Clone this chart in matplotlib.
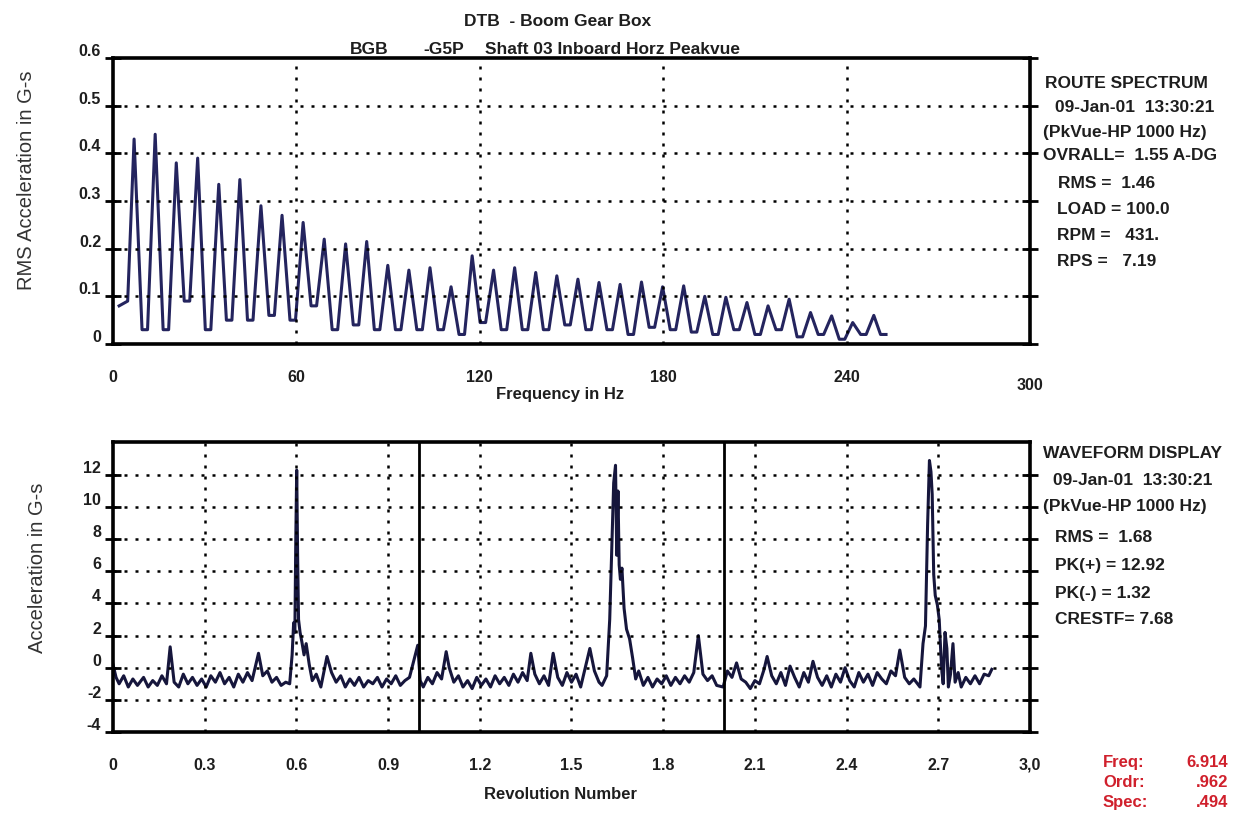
import matplotlib
matplotlib.use("Agg")
import matplotlib.pyplot as plt
from matplotlib.transforms import ScaledTranslation

# ---- spectrum (top) ----
start_hz = [2.0, 4.8]
start_g = [0.08, 0.09]
peak_hz = [6.9, 13.8, 20.7, 27.7, 34.6, 41.5, 48.4, 55.3, 62.2, 69.1, 76.1, 83.0,
           89.9, 96.8, 103.7, 110.6, 117.5, 124.5, 131.4, 138.3, 145.2, 152.1, 159.0, 165.9,
           172.9, 179.8, 186.7, 193.6, 200.5, 207.4, 214.3, 221.2, 228.2, 235.1, 242.0, 248.9]
peak_g = [0.43, 0.44, 0.38, 0.39, 0.335, 0.345, 0.29, 0.27, 0.255, 0.22, 0.21, 0.215,
          0.165, 0.155, 0.16, 0.12, 0.185, 0.155, 0.16, 0.15, 0.143, 0.136, 0.129, 0.125,
          0.13, 0.12, 0.122, 0.10, 0.098, 0.087, 0.08, 0.094, 0.066, 0.059, 0.045, 0.06]
dip_hz = [10.4, 17.3, 24.2, 31.1, 38.0, 44.9, 51.9, 58.8, 65.7, 72.6, 79.5, 86.4,
          93.3, 100.3, 107.2, 114.1, 121.0, 127.9, 134.8, 141.7, 148.7, 155.6, 162.5, 169.4,
          176.3, 183.2, 190.1, 197.1, 204.0, 210.9, 217.8, 224.7, 231.6, 238.5, 245.5, 252.0]
dip_g = [0.03, 0.03, 0.09, 0.03, 0.05, 0.05, 0.06, 0.05, 0.08, 0.03, 0.04, 0.03,
         0.03, 0.03, 0.03, 0.02, 0.045, 0.03, 0.03, 0.03, 0.04, 0.03, 0.03, 0.02,
         0.035, 0.03, 0.025, 0.02, 0.03, 0.02, 0.03, 0.015, 0.02, 0.01, 0.02, 0.02]

# ---- waveform (bottom) ----
rev = [0.00, 0.01, 0.02, 0.035, 0.05, 0.065, 0.08, 0.10, 0.115, 0.13, 0.145, 0.16,
       0.175, 0.187, 0.20, 0.215, 0.23, 0.245, 0.26, 0.275, 0.29, 0.305, 0.32, 0.335,
       0.35, 0.365, 0.38, 0.395, 0.41, 0.425, 0.44, 0.455, 0.476, 0.49, 0.505, 0.52,
       0.535, 0.55, 0.565, 0.578,
       0.586, 0.591, 0.595, 0.598, 0.601, 0.604, 0.607, 0.612, 0.618, 0.625, 0.632, 0.642,
       0.652, 0.665, 0.68, 0.70, 0.715, 0.73, 0.745, 0.76, 0.775, 0.79, 0.805, 0.82,
       0.835, 0.85, 0.865, 0.88, 0.895, 0.91, 0.925, 0.94, 0.955, 0.97, 0.985, 0.997,
       1.005, 1.015, 1.03, 1.045, 1.06, 1.075, 1.09, 1.10, 1.115, 1.13, 1.145, 1.16,
       1.175, 1.19, 1.205, 1.22, 1.235, 1.25, 1.265, 1.28, 1.295, 1.31, 1.325, 1.34,
       1.355, 1.367, 1.38, 1.395, 1.41, 1.425, 1.44, 1.455, 1.47, 1.485, 1.50, 1.515,
       1.53, 1.545, 1.56, 1.575, 1.59, 1.60,
       1.615, 1.625, 1.632, 1.638, 1.644, 1.648, 1.652, 1.656, 1.660, 1.665, 1.672, 1.68,
       1.69, 1.70, 1.71, 1.72, 1.735, 1.75, 1.765, 1.78, 1.795, 1.81, 1.825, 1.84,
       1.855, 1.87, 1.885, 1.90, 1.915, 1.93, 1.945, 1.96, 1.975, 1.996, 2.01, 2.025,
       2.04, 2.055, 2.07, 2.085, 2.10, 2.115, 2.13, 2.14, 2.155, 2.17, 2.185, 2.20,
       2.215, 2.23, 2.245, 2.26, 2.275, 2.29, 2.305, 2.32, 2.335, 2.35, 2.365, 2.38,
       2.395, 2.41, 2.425, 2.44, 2.455, 2.47, 2.485, 2.50, 2.515, 2.53, 2.545, 2.56,
       2.574, 2.59, 2.605, 2.62, 2.64,
       2.65, 2.658, 2.665, 2.671, 2.676, 2.680, 2.685, 2.69, 2.697, 2.703, 2.708, 2.712,
       2.716, 2.722, 2.728, 2.733, 2.74, 2.748, 2.755, 2.765, 2.775, 2.79, 2.805, 2.82,
       2.835, 2.85, 2.865, 2.875]
acc = [0.2, -0.6, -1.0, -0.5, -1.2, -0.7, -1.1, -0.6, -1.2, -0.8, -1.1, -0.5,
       -1.0, 1.3, -0.9, -1.2, -0.4, -1.0, -0.6, -1.1, -0.7, -1.2, -0.5, -0.9,
       -0.3, -1.0, -0.6, -1.2, -0.4, -0.9, -0.3, -0.8, 0.9, -0.5, -0.2, -0.9,
       -0.6, -1.1, -0.9, -1.0,
       0.8, 2.8, 2.2, 8.0, 12.3, 7.0, 3.0, 2.2, 1.6, 0.8, 1.5, 0.2,
       -0.8, -0.4, -1.2, 0.7, -0.3, -0.9, -0.5, -1.2, -0.7, -1.1, -0.6, -1.2,
       -0.8, -1.0, -0.6, -1.2, -0.7, -1.0, -0.5, -1.1, -0.8, -0.6, 0.5, 1.4,
       -0.8, -1.2, -0.6, -1.0, -0.3, -0.7, 1.0, 0.0, -0.9, -0.5, -1.2, -0.8,
       -1.3, -0.6, -1.1, -0.7, -1.2, -0.5, -1.0, -0.6, -1.1, -0.4, -0.9, -0.3,
       -0.8, 0.9, -0.4, -1.0, -0.5, -1.1, 0.9, -0.6, -1.1, -0.3, -0.9, -0.4,
       -1.2, 0.0, 1.2, -0.2, -0.9, -1.1,
       -0.5, 3.0, 7.5, 11.5, 12.6, 7.0, 11.0, 6.4, 5.5, 6.2, 3.7, 2.4,
       1.8, 0.6, -0.7, -0.2, -1.1, -0.6, -1.2, -0.7, -1.0, -0.5, -1.1, -0.6,
       -1.0, -0.5, -0.9, -0.3, 2.0, -0.4, -0.8, -0.5, -1.1, -1.2, -0.2, -0.6,
       0.3, -0.7, -0.9, -1.3, -0.8, -1.0, -0.1, 0.7, -0.5, -1.0, -0.3, -1.1,
       0.1, -0.6, -1.2, -0.3, -0.9, 0.4, -0.6, -1.1, -0.5, -1.2, -0.4, -0.9,
       0.0, -0.8, -1.2, -0.3, -0.9, -0.4, -1.1, -0.3, -0.7, -1.0, -0.2, -0.5,
       1.1, -0.6, -1.0, -0.7, -1.2,
       1.5, 2.6, 8.9, 12.9, 12.2, 10.8, 5.8, 4.5, 3.9, 3.0, 1.0, -0.3,
       -1.0, 2.2, 1.2, -1.2, -0.4, 1.5, -0.9, -0.3, -1.2, -0.6, -1.0, -0.5,
       -1.0, -0.4, -0.5, -0.1]

top_xticks = [0, 60, 120, 180, 240, 300]
top_yticks = [0, 0.1, 0.2, 0.3, 0.4, 0.5, 0.6]
top_ylabels = ["0", "0.1", "0.2", "0.3", "0.4", "0.5", "0.6"]
bot_xticks = [0, 0.3, 0.6, 0.9, 1.2, 1.5, 1.8, 2.1, 2.4, 2.7, 3.0]
bot_xlabels = ["0", "0.3", "0.6", "0.9", "1.2", "1.5", "1.8", "2.1", "2.4", "2.7", "3,0"]
bot_yticks = [-4, -2, 0, 2, 4, 6, 8, 10, 12]
rev_marks = [1.0, 2.0]

spec_info = ["ROUTE SPECTRUM", "09-Jan-01  13:30:21", "(PkVue-HP 1000 Hz)",
             "OVRALL=  1.55 A-DG", "RMS =  1.46", "LOAD = 100.0", "RPM =   431.",
             "RPS =   7.19"]
wave_info = ["WAVEFORM DISPLAY", "09-Jan-01  13:30:21", "(PkVue-HP 1000 Hz)",
             "RMS =  1.68", "PK(+) = 12.92", "PK(-) = 1.32", "CRESTF= 7.68"]
cursor_names = ["Freq:", "Ordr:", "Spec:"]
cursor_vals = ["6.914", ".962", ".494"]

W, H = 1254, 820
FONT = "Liberation Sans"
INK = "#1e1e1e"
GRID = dict(color="black", linestyle=(0, (1.2, 3.2)), linewidth=1.8)
DIP_HALF = 0.9  # half width of the flat bottom of each trough, Hz

plt.rcParams["font.family"] = FONT
plt.rcParams["font.weight"] = "bold"
plt.rcParams["axes.unicode_minus"] = False

fig = plt.figure(figsize=(W / 100, H / 100), dpi=100)
fig.patch.set_facecolor("white")


def box(l, t, r, b):
    return [l / W, 1 - b / H, (r - l) / W, (b - t) / H]


def px(x, y):
    return x / W, 1 - y / H


def style(ax):
    for s in ax.spines.values():
        s.set_linewidth(2.6)
        s.set_color("black")
    ax.tick_params(axis="x", length=0, pad=18, labelsize=11.5, labelcolor=INK)
    ax.tick_params(axis="y", which="both", direction="inout", length=11, width=2,
                   left=True, right=True, labelleft=True, labelsize=11.5,
                   labelcolor=INK, pad=3)
    ax.set_axisbelow(True)
    for t in ax.get_yticklabels():
        t.set_verticalalignment("bottom")


# top spectrum
ax1 = fig.add_axes(box(113, 59, 1030, 345))
xs = list(start_hz)
ys = list(start_g)
for ph, pg, dh, dg in zip(peak_hz, peak_g, dip_hz, dip_g):
    xs += [ph, dh - DIP_HALF, dh + DIP_HALF]
    ys += [pg, dg, dg]
ax1.plot(xs, ys, color="#24245e", lw=2.2, solid_joinstyle="round")
ax1.set_xlim(0, 300)
ax1.set_ylim(0, 0.6)
ax1.set_xticks(top_xticks)
ax1.set_yticks(top_yticks)
ax1.set_yticklabels(top_ylabels)
for v in top_yticks[1:-1]:
    ax1.axhline(v, **GRID)
for v in top_xticks[1:-1]:
    ax1.axvline(v, **GRID)
style(ax1)
lab300 = ax1.get_xticklabels()[-1]
lab300.set_transform(lab300.get_transform() + ScaledTranslation(0, -8 / 100, fig.dpi_scale_trans))

# bottom waveform
ax2 = fig.add_axes(box(113, 443, 1030, 733))
ax2.plot(rev, acc, color="#16163c", lw=2.2)
ax2.set_xlim(0, 3.0)
ax2.set_ylim(-4, 14.05)
ax2.set_xticks(bot_xticks)
ax2.set_xticklabels(bot_xlabels)
ax2.set_yticks(bot_yticks)
for v in bot_yticks[1:]:
    ax2.axhline(v, **GRID)
for v in bot_xticks[1:-1]:
    ax2.axvline(v, **GRID)
for v in rev_marks:
    ax2.axvline(v, color="black", lw=2.0)
style(ax2)

# titles
fig.text(*px(558, 22), "DTB  - Boom Gear Box", ha="center", va="center",
         fontsize=12.5, color=INK)
fig.text(*px(350, 50), "BGB", ha="left", va="center", fontsize=12.5, color=INK)
fig.text(*px(423, 50), "-G5P", ha="left", va="center", fontsize=12.5, color=INK)
fig.text(*px(485, 50), "Shaft 03 Inboard Horz Peakvue", ha="left", va="center",
         fontsize=12.5, color=INK)

# axis titles
fig.text(*px(27, 180), "RMS Acceleration in G-s", rotation=90, ha="center",
         va="center", fontsize=14.5, fontweight="normal", color="#333333")
fig.text(*px(38, 568), "Acceleration in G-s", rotation=90, ha="center",
         va="center", fontsize=14.5, fontweight="normal", color="#333333")
fig.text(*px(560, 395), "Frequency in Hz", ha="center", va="center",
         fontsize=12, color=INK)
fig.text(*px(560, 795), "Revolution Number", ha="center", va="center",
         fontsize=12, color=INK)

# side info blocks
spec_y = [83, 108, 132, 156, 184, 210, 236, 262]
spec_x = [1045, 1055, 1043, 1043, 1058, 1057, 1057, 1057]
for s, x, y in zip(spec_info, spec_x, spec_y):
    fig.text(*px(x, y), s, ha="left", va="center", fontsize=12.5, color=INK)

wave_y = [453, 481, 507, 538, 566, 594, 620]
wave_x = [1043, 1053, 1043, 1055, 1055, 1055, 1055]
for s, x, y in zip(wave_info, wave_x, wave_y):
    fig.text(*px(x, y), s, ha="left", va="center", fontsize=12.5, color=INK)

for i, (n, v) in enumerate(zip(cursor_names, cursor_vals)):
    y = 763 + 20 * i
    fig.text(*px(1103, y), n, ha="left", va="center", fontsize=12, color="#d0202c")
    fig.text(*px(1228, y), v, ha="right", va="center", fontsize=12, color="#d0202c")

fig.savefig("out.png", dpi=100, facecolor="white")
